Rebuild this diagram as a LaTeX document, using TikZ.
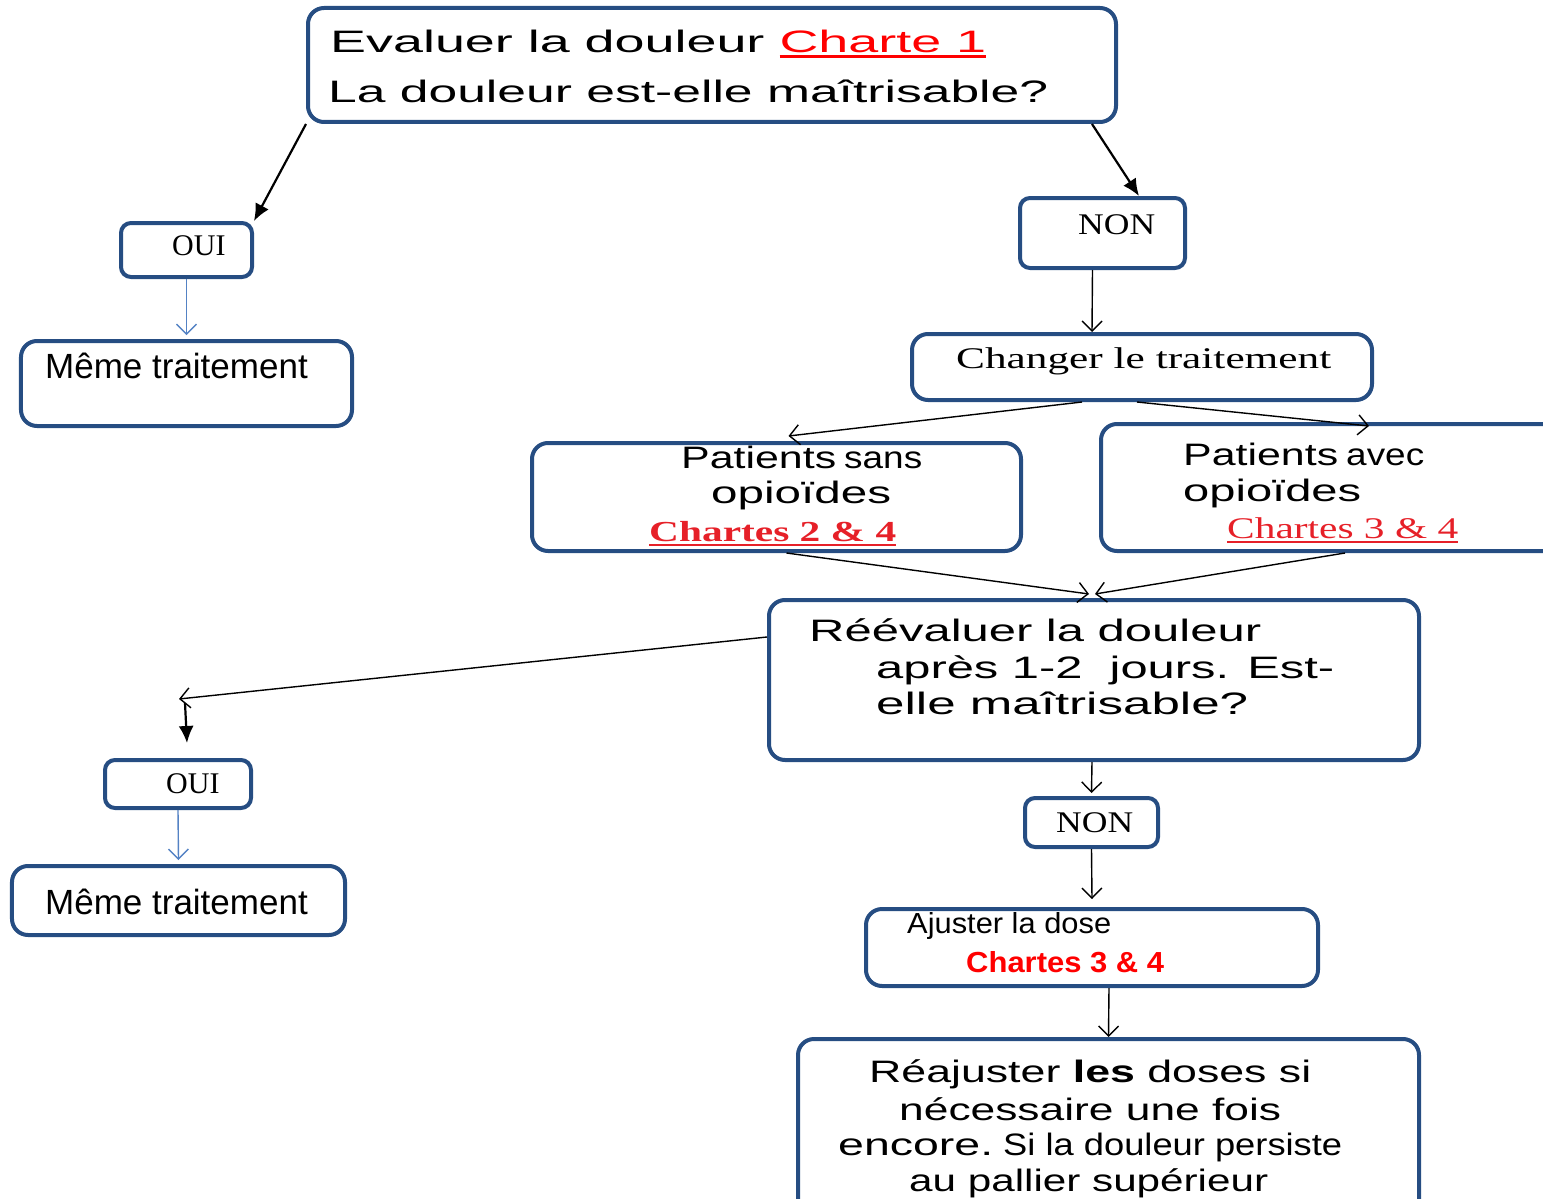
\documentclass[tikz,border=0pt]{standalone}
\usepackage{fontspec}
\usepackage{graphicx}
\usetikzlibrary{arrows.meta}
\newfontfamily\sansA{Liberation Sans}
\newfontfamily\serifT{Liberation Serif}
\definecolor{boxblue}{RGB}{38,77,130}
\definecolor{linkblue}{RGB}{84,130,196}
\definecolor{chartred}{RGB}{230,32,40}
\def\fitw#1#2{\resizebox{#1pt}{\height}{#2}}
\def\undl#1{\setbox0\hbox{#1}\rlap{\rule[-5pt]{\wd0}{2.5pt}}\box0}
\tikzset{
	box/.style={draw=boxblue, line width=4pt, rounded corners=16pt, anchor=north west, inner sep=0pt},
	txt/.style={anchor=base west, inner sep=0pt, font=\sansA\fontsize{31}{37}\selectfont},
	tnr/.style={anchor=base west, inner sep=0pt, font=\serifT\fontsize{30}{36}\selectfont},
	arr/.style={-{Straight Barb[length=10pt,width=20pt]}, line width=1.4pt},
	fat/.style={-{Latex[length=17pt,width=15pt]}, line width=2.2pt},
	link/.style={arr, draw=linkblue},
}

\begin{document}
\begin{tikzpicture}[x=1pt, y=-1pt]
			%%%%% START %%%%%
			\useasboundingbox (2,2) rectangle (1545,1201);
			\clip (2,2) rectangle (1545,1201);
			
			\node[box, minimum width=808pt, minimum height=114pt] (eval) at (308,8) {};
			\node[txt] (evalA) at ([shift={(24,47)}]eval.north west) {\fitw{656}{Evaluer la douleur {\color{red}\undl{Charte 1}}}};
			\node[txt] (evalB) at ([shift={(22,97)}]eval.north west) {\fitw{720}{La douleur est-elle maîtrisable?}};
			
			\node[box, rounded corners=10pt, minimum width=131pt, minimum height=54pt] (oui1) at (121,223) {};
			\node[tnr] (oui1t) at ([shift={(53,34)}]oui1.north west) {OUI};
			\node[box, minimum width=331pt, minimum height=85pt] (meme1) at (21,341) {};
			\node[txt, font=\sansA\fontsize{35}{42}\selectfont] (meme1t) at ([shift={(26,39)}]meme1.north west) {Même traitement};
			
			\node[box, rounded corners=10pt, minimum width=165pt, minimum height=70pt] (non1) at (1020,198) {};
			\node[tnr] (non1t) at ([shift={(60,38)}]non1.north west) {\fitw{77}{NON}};
			\node[box, minimum width=460pt, minimum height=66pt] (changer) at (912,334) {};
			\node[tnr] (changert) at ([shift={(46,36)}]changer.north west) {\fitw{375}{Changer le traitement}};
			
			\node[box, minimum width=489pt, minimum height=108pt] (sans) at (532,443) {};
			\node[txt] (sansA) at ([shift={(151,27)}]sans.north west) {\fitw{155}{Patients}\hspace{8pt}\fitw{78}{sans}};
			\node[txt] (sansB) at ([shift={(181,62)}]sans.north west) {\fitw{180}{opioïdes}};
			\node[tnr, font=\serifT\bfseries\fontsize{29}{35}\selectfont, text=chartred] (sansC) at ([shift={(119,100)}]sans.north west) {\fitw{247}{\undl{Chartes 2 \& 4}}};
			
			\node[box, minimum width=460pt, minimum height=127pt] (avec) at (1101,424) {};
			\node[txt] (avecA) at ([shift={(84,43)}]avec.north west) {\fitw{155}{Patients}\hspace{8pt}\fitw{78}{avec}};
			\node[txt] (avecB) at ([shift={(84,79)}]avec.north west) {\fitw{178}{opioïdes}};
			\node[tnr, text=chartred] (avecC) at ([shift={(128,116)}]avec.north west) {\fitw{231}{\undl{Chartes 3 \& 4}}};
			
			\node[box, minimum width=650pt, minimum height=160pt] (reeval) at (769,600) {};
			\node[txt] (reevalA) at ([shift={(42,43)}]reeval.north west) {\fitw{452}{Réévaluer la douleur}};
			\node[txt] (reevalB) at ([shift={(109,80)}]reeval.north west) {\fitw{458}{après 1-2~ jours. Est-}};
			\node[txt] (reevalC) at ([shift={(109,116)}]reeval.north west) {\fitw{372}{elle maîtrisable?}};
			
			\node[box, rounded corners=10pt, minimum width=146pt, minimum height=48pt] (oui2) at (105,760) {};
			\node[tnr] (oui2t) at ([shift={(63,35)}]oui2.north west) {OUI};
			\node[box, minimum width=333pt, minimum height=69pt] (meme2) at (12,866) {};
			\node[txt, font=\sansA\fontsize{35}{42}\selectfont] (meme2t) at ([shift={(35,50)}]meme2.north west) {Même traitement};
			
			\node[box, rounded corners=10pt, minimum width=133pt, minimum height=49pt] (non2) at (1025,798) {};
			\node[tnr] (non2t) at ([shift={(33,36)}]non2.north west) {\fitw{77}{NON}};
			\node[box, minimum width=452pt, minimum height=77pt] (ajuster) at (866,909) {};
			\node[txt, font=\sansA\fontsize{29}{35}\selectfont] (ajusterA) at ([shift={(43,26)}]ajuster.north west) {\fitw{204}{Ajuster la dose}};
			\node[txt, font=\sansA\bfseries\fontsize{29}{35}\selectfont, text=red] (ajusterB) at ([shift={(102,65)}]ajuster.north west) {\fitw{198}{Chartes 3 \& 4}};
			
			\node[box, minimum width=621pt, minimum height=200pt] (reaj) at (798,1039) {};
			\node[txt] (reajA) at ([shift={(73,45)}]reaj.north west) {\fitw{442}{Réajuster \textbf{les} doses si}};
			\node[txt] (reajB) at ([shift={(103,83)}]reaj.north west) {\fitw{382}{nécessaire une fois}};
			\node[txt] (reajC) at ([shift={(42,118)}]reaj.north west) {\fitw{155}{encore.}\hspace{10pt}\fitw{339}{Si la douleur persiste}};
			\node[txt] (reajD) at ([shift={(113,154)}]reaj.north west) {\fitw{359}{au pallier supérieur}};
			
			% connecteurs
			\draw[fat] (eval.south west) -- (oui1.north east);
			\draw[fat] ([xshift=-26pt]eval.south east) -- ([xshift=-48pt]non1.north east);
			\draw[link] (oui1.south) -- ([yshift=4pt]meme1.north);
			\draw[arr] ([xshift=-10pt]non1.south) -- ([xshift=-50pt]changer.north);
			\draw[arr] ([xshift=-60pt]changer.south) -- ([xshift=12pt,yshift=5pt]sans.north);
			\draw[arr] ([xshift=-5pt]changer.south) -- ([xshift=38pt,yshift=-4pt]avec.north);
			\draw[arr] ([xshift=10pt]sans.south) -- ([xshift=-5pt,yshift=4pt]reeval.north);
			\draw[arr] ([xshift=14pt]avec.south) -- ([xshift=1pt,yshift=4pt]reeval.north);
			
			\coordinate (lefttip) at (181,701);
			\draw[arr] ([yshift=43pt]reeval.west) -- (lefttip);
			\draw[fat] ([xshift=6pt,yshift=-4pt]lefttip) -- ([xshift=9pt,yshift=15pt]oui2.north);
			\draw[link] (oui2.south) -- ([yshift=4pt]meme2.north);
			\draw[arr] ([xshift=-2pt]reeval.south) -- ([yshift=3pt]non2.north);
			\draw[arr] (non2.south) -- ([yshift=8pt]ajuster.north);
			\draw[arr] ([xshift=17pt]ajuster.south) -- (reaj.north);
			
			%%%%% END %%%%%
\end{tikzpicture}
\end{document}
